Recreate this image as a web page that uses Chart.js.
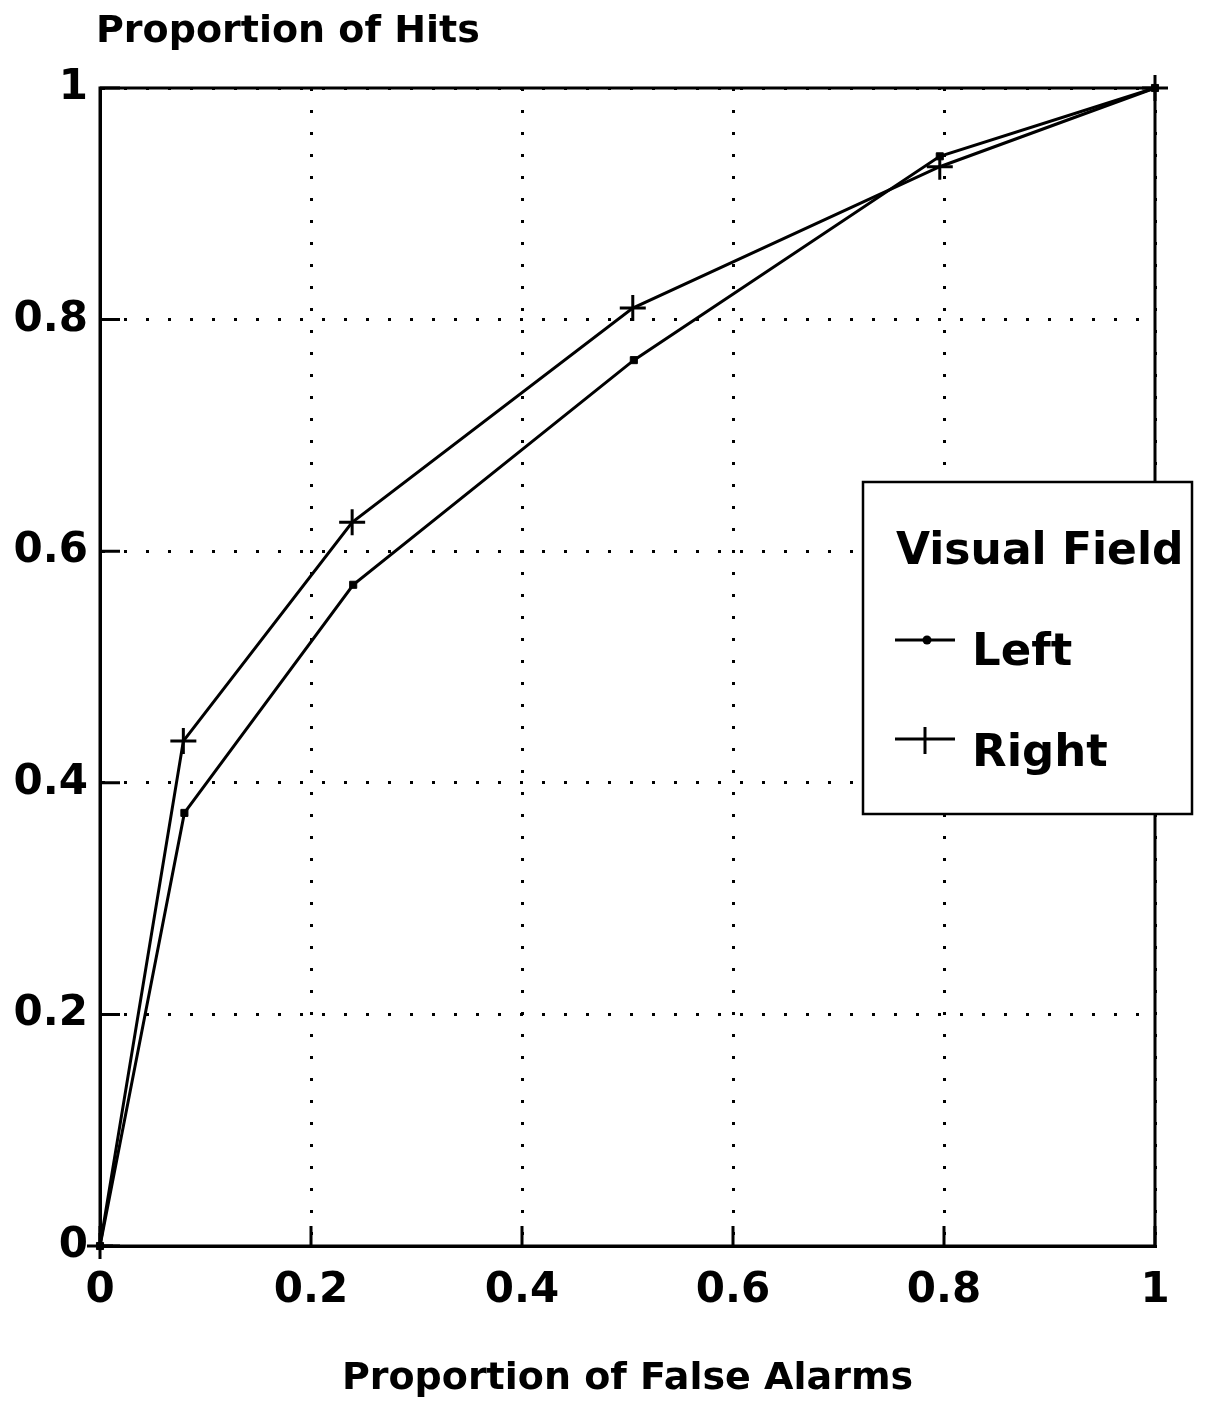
<!DOCTYPE html>
<html>
<head>
<meta charset="utf-8">
<script src="https://cdn.jsdelivr.net/npm/chart.js@4/dist/chart.umd.min.js"></script>
<style>
  html, body { margin: 0; padding: 0; background: #fff; }
  #wrap { width: 1222px; height: 1404px; position: relative; }
</style>
</head>
<body>
<div id="wrap"><canvas id="c" width="1222" height="1404"></canvas></div>
<script>
// ---- data ----
const leftFalseAlarms  = [0, 0.080, 0.240, 0.506, 0.796, 1];
const leftHits         = [0, 0.374, 0.571, 0.765, 0.941, 1];
const rightFalseAlarms = [0, 0.079, 0.239, 0.505, 0.796, 1];
const rightHits        = [0, 0.436, 0.625, 0.810, 0.932, 1];
const tickValues = [0, 0.2, 0.4, 0.6, 0.8, 1];
const tickLabels = ['0', '0.2', '0.4', '0.6', '0.8', '1'];
const seriesNames = ['Left', 'Right'];
const legendTitle = 'Visual Field';
const yTitle = 'Proportion of Hits';
const xTitle = 'Proportion of False Alarms';

const FONT = '"DejaVu Sans", "Liberation Sans", Arial, sans-serif';

function pts(xs, ys) { return xs.map((x, i) => ({ x: x, y: ys[i] })); }
function labelFor(v) {
  const i = tickValues.findIndex(t => Math.abs(t - v) < 1e-6);
  return i >= 0 ? tickLabels[i] : '';
}

const framePlugin = {
  id: 'frame',
  afterDatasetsDraw(chart) {
    const { ctx, chartArea: a, scales } = chart;
    ctx.save();
    ctx.strokeStyle = '#000';
    ctx.lineWidth = 3;
    ctx.setLineDash([]);
    ctx.strokeRect(a.left, a.top, a.right - a.left, a.bottom - a.top);
    // inward tick marks on left and bottom axes
    const tl = 20;
    ctx.beginPath();
    tickValues.forEach(v => {
      const y = scales.y.getPixelForValue(v);
      ctx.moveTo(a.left, y); ctx.lineTo(a.left + tl, y);
      const x = scales.x.getPixelForValue(v);
      ctx.moveTo(x, a.bottom); ctx.lineTo(x, a.bottom - tl);
    });
    ctx.stroke();
    ctx.restore();
  },
  afterDraw(chart) {
    const { ctx } = chart;
    ctx.save();
    // top-left y title
    ctx.fillStyle = '#000';
    ctx.font = 'bold 38px ' + FONT;
    ctx.textBaseline = 'alphabetic';
    ctx.textAlign = 'left';
    ctx.fillText(yTitle, 96, 42);

    // legend box
    const bx = 863, by = 482, bw = 329, bh = 332;
    ctx.fillStyle = '#fff';
    ctx.fillRect(bx, by, bw, bh);
    ctx.strokeStyle = '#000';
    ctx.lineWidth = 2.5;
    ctx.strokeRect(bx, by, bw, bh);
    ctx.fillStyle = '#000';
    ctx.font = 'bold 44px ' + FONT;
    ctx.fillText(legendTitle, 896, 564);

    const rows = [{ y: 640, base: 665 }, { y: 739, base: 766 }];
    chart.data.datasets.forEach((ds, i) => {
      const r = rows[i];
      ctx.lineWidth = 3;
      ctx.beginPath();
      ctx.moveTo(895, r.y); ctx.lineTo(955, r.y);
      ctx.stroke();
      if (ds.pointStyle === 'rect') {
        ctx.beginPath();
        ctx.arc(927, r.y, 4.5, 0, Math.PI * 2);
        ctx.fill();
      } else {
        ctx.beginPath();
        ctx.moveTo(925, r.y - 12); ctx.lineTo(925, r.y + 15);
        ctx.stroke();
      }
      ctx.font = 'bold 45px ' + FONT;
      ctx.fillText(ds.label, 972, r.base);
    });
    ctx.restore();
  }
};

new Chart(document.getElementById('c'), {
  type: 'line',
  data: {
    datasets: [
      {
        label: seriesNames[0],
        data: pts(leftFalseAlarms, leftHits),
        borderColor: '#000', backgroundColor: '#000',
        borderWidth: 3, pointStyle: 'rect', pointRadius: 5,
        pointBorderWidth: 1, tension: 0, fill: false, clip: false
      },
      {
        label: seriesNames[1],
        data: pts(rightFalseAlarms, rightHits),
        borderColor: '#000', backgroundColor: '#000',
        borderWidth: 3, pointStyle: 'cross', pointRadius: 13,
        pointBorderWidth: 3, tension: 0, fill: false, clip: false
      }
    ]
  },
  options: {
    responsive: false,
    animation: false,
    events: [],
    layout: { padding: { top: 88, right: 67, left: 0, bottom: 0 } },
    plugins: { legend: { display: false }, tooltip: { enabled: false }, title: { display: false } },
    scales: {
      x: {
        type: 'linear', min: 0, max: 1,
        afterBuildTicks: s => { s.ticks = tickValues.map(v => ({ value: v })); },
        afterFit: s => { s.height = 158; },
        ticks: {
          callback: v => labelFor(v),
          color: '#000', padding: 20, maxRotation: 0,
          font: { family: FONT, size: 42, weight: 'bold' }
        },
        grid: { color: '#000', lineWidth: 3, drawTicks: false, tickLength: 0, tickWidth: 0 },
        border: { display: true, color: '#000', width: 3, dash: [3, 19] },
        title: {
          display: true, text: xTitle, color: '#000',
          font: { family: FONT, size: 38, weight: 'bold' },
          padding: { top: 0, bottom: 2 }
        }
      },
      y: {
        type: 'linear', min: 0, max: 1,
        afterBuildTicks: s => { s.ticks = tickValues.map(v => ({ value: v })); },
        afterFit: s => { s.width = 100; },
        ticks: {
          callback: v => labelFor(v),
          color: '#000', padding: 12,
          font: { family: FONT, size: 42, weight: 'bold' }
        },
        grid: { color: '#000', lineWidth: 3, drawTicks: false, tickLength: 0, tickWidth: 0 },
        border: { display: true, color: '#000', width: 3, dash: [3, 19] }
      }
    }
  },
  plugins: [framePlugin]
});
</script>
</body>
</html>
